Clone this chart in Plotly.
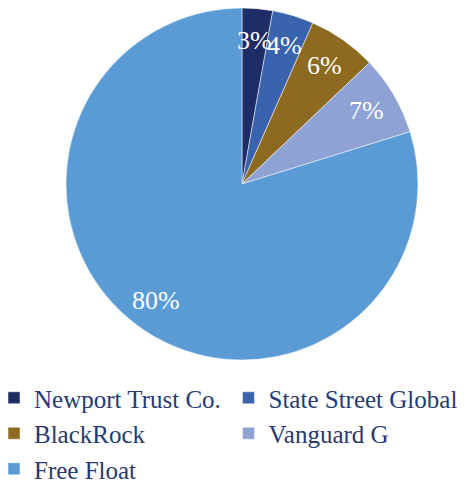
import math
import plotly.graph_objects as go

holders = ["Newport Trust Co.", "State Street Global", "BlackRock", "Vanguard G", "Free Float"]
shares = [2.8, 3.8, 6.3, 7.3, 79.8]
colors = ["#1F2D66", "#3A63AD", "#8C6A20", "#8FA2D4", "#5B9BD5"]

SERIF = "'Liberation Serif', 'DejaVu Serif', serif"

W, H = 466, 480
MB = 120                      # bottom margin (legend lives there)
PH = H - MB                   # plot-area height in px
DOM_X = [58 / W, 410 / W]
DOM_Y = [1 - 352 / PH, 1.0]

fig = go.Figure(
    go.Pie(
        labels=holders,
        values=shares,
        sort=False,
        direction="clockwise",
        rotation=0,
        marker=dict(colors=colors, line=dict(color="white", width=0.5)),
        textinfo="none",
        domain=dict(x=DOM_X, y=DOM_Y),
        hoverinfo="label+percent",
    )
)

# percentage labels placed along each slice's mid-angle (Excel "best fit" style)
cx = (DOM_X[0] + DOM_X[1]) / 2 * W
cy = (1 - (DOM_Y[0] + DOM_Y[1]) / 2) * PH
radius = min((DOM_X[1] - DOM_X[0]) * W, (DOM_Y[1] - DOM_Y[0]) * PH) / 2
total = sum(shares)
cum = 0.0
annotations = []
for v in shares:
    mid = (cum + v / 2) / total * 2 * math.pi
    cum += v
    px = cx + 0.82 * radius * math.sin(mid)
    py = cy - 0.82 * radius * math.cos(mid)
    annotations.append(
        dict(
            x=px / W,
            y=(PH - py) / PH,
            xref="paper",
            yref="paper",
            text=f"{round(v / total * 100)}%",
            showarrow=False,
            xanchor="center",
            yanchor="middle",
            font=dict(family=SERIF, size=26, color="white"),
        )
    )

fig.update_layout(
    width=W,
    height=H,
    margin=dict(l=0, r=0, t=0, b=MB, autoexpand=False),
    paper_bgcolor="white",
    plot_bgcolor="white",
    font=dict(family=SERIF),
    annotations=annotations,
    showlegend=True,
    legend=dict(
        orientation="h",
        x=-14 / W,
        xanchor="left",
        y=(PH - 367) / PH,
        yanchor="top",
        entrywidth=189.5,
        entrywidthmode="pixels",
        font=dict(family=SERIF, size=25, color="#283A6E"),
        bgcolor="rgba(0,0,0,0)",
        traceorder="normal",
    ),
)

fig.write_html("out.html")
